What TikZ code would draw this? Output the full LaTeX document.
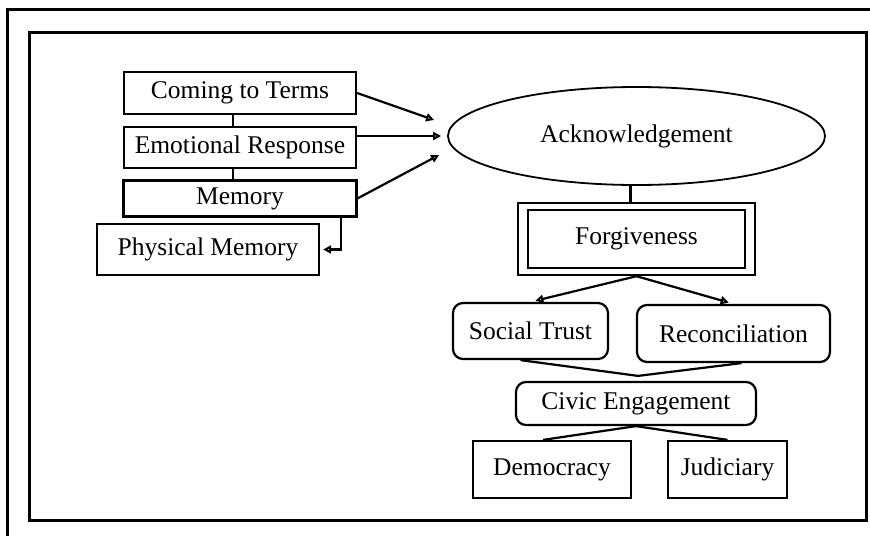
\documentclass[tikz,border=0pt]{standalone}
\usepackage{fontspec}
\setmainfont{Liberation Serif}
\usetikzlibrary{arrows.meta,calc,positioning,fit,shapes.geometric}
\tikzset{
    >={Triangle[open,length=8pt,width=8pt]},
    boks/.style={
           rectangle,
           draw=black, line width=2.2pt,
           inner sep=0pt,
           text centered},
    rund/.style={
           boks,
           rounded corners=10pt},
    pil/.style={
           ->,
           line width=2.2pt},
    linje/.style={
           line width=2.2pt}
}

\begin{document}
\begin{tikzpicture}[x=1pt, y=-1pt, font=\fontsize{25.5}{30}\selectfont]
        \useasboundingbox (0,0) rectangle (870,536);
        \draw[line width=3pt] (7,536) -- (7,9) -- (870,9);
        \draw[line width=3pt] (29,32) rectangle (866,520);
        \node[boks, minimum width=232pt, minimum height=42pt] (terms) at (240,93) {Coming to Terms};
        \node[boks, minimum width=232pt, minimum height=41pt, below=11pt of terms] (emo) {Emotional Response};
        \node[boks, minimum width=233pt, minimum height=36pt, below=10pt of emo] (mem) {Memory};
        \node[boks, minimum width=222pt, minimum height=51pt] (phys) at (208,249.5) {Physical Memory};
        \node[ellipse, draw, line width=1.8pt, minimum width=377pt, minimum height=98pt,
              inner sep=0pt] (ack) at (636.5,136) {Acknowledgement};
        \node[boks, minimum width=217pt, minimum height=58pt] (forg) at (636.5,239) {Forgiveness};
        \node[boks, fit=(forg), inner xsep=9pt, inner ysep=6pt] (forgramme) {};
        \node[rund, minimum width=155pt, minimum height=56pt] (soc) at (530.5,331) {Social Trust};
        \node[rund, minimum width=193pt, minimum height=57pt] (rec) at (733.5,333.5) {Reconciliation};
        \node[rund, minimum width=240pt, minimum height=43pt] (civ) at (636,403.5) {Civic Engagement};
        \node[boks, minimum width=158pt, minimum height=57pt] (dem) at (552,469.5) {Democracy};
        \node[boks, minimum width=119pt, minimum height=57pt] (jud) at (727.5,469.5) {Judiciary};
        \coordinate (samle) at ($(civ.north)+(2,-5)$);
        \draw[linje] ($(terms.south)+(-7,0)$) -- ($(emo.north)+(-7,0)$);
        \draw[linje] ($(emo.south)+(-7,0)$) -- ($(mem.north)+(-7,0)$);
        \draw[pil, shorten >=3pt] ($(mem.south east)+(-17,0)$) |- (phys.east);
        \draw[pil] (terms.east) -- ($(ack.west)+(-13,-16)$);
        \draw[pil, shorten >=6pt] (emo.east |- ack.west) -- (ack.west);
        \draw[pil] (mem.east) -- ($(ack.west)+(-8,19)$);
        \draw[linje] ($(ack.south)+(-6,0)$) -- ($(forgramme.north)+(-6,0)$);
        \draw[pil, shorten >=5pt] (forgramme.south) -- (soc.north);
        \draw[pil, shorten >=5pt] (forgramme.south) -- (rec.north);
        \draw[linje] ($(soc.south)+(-10,0)$) -- (samle) -- ($(rec.south)+(8,0)$);
        \draw[linje] ($(dem.north)+(-9,0)$) -- (civ.south) -- (jud.north);
\end{tikzpicture}
\end{document}
